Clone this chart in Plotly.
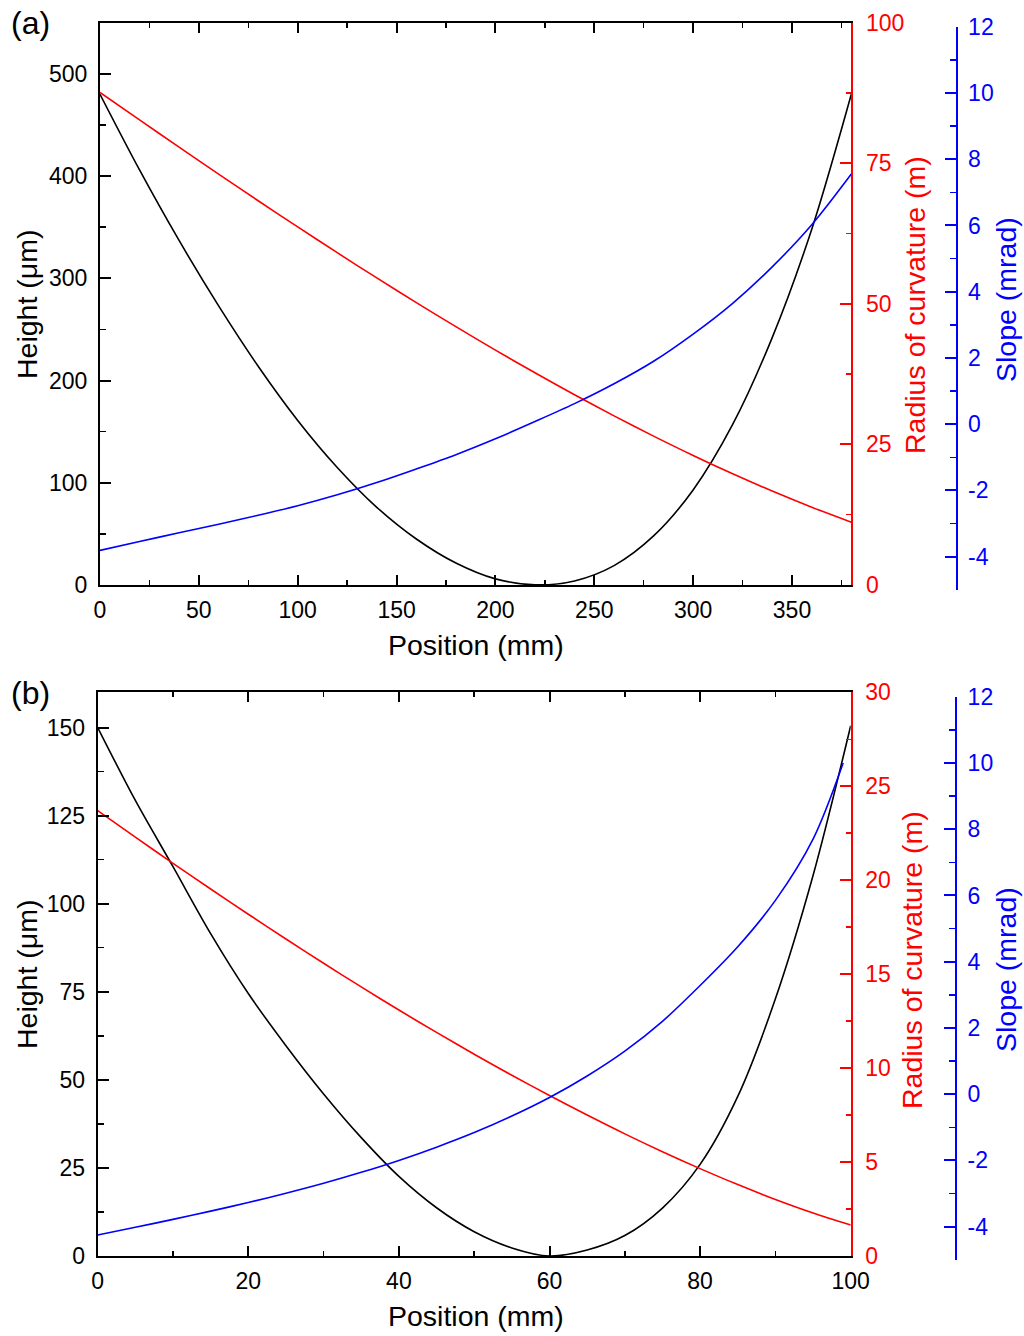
import plotly.graph_objects as go

# ---------------- data: panel (a) ----------------
pos_a = [0, 20, 40, 60, 80, 100, 120, 140, 160, 180, 200, 220, 240, 260, 280, 300, 320, 340, 360, 380]
height_a = [480, 406, 337, 273, 214, 161, 115, 76, 45, 21.5, 6, 0.2, 4, 19, 48, 93, 157, 242, 348, 480]
radius_a = [87.6, 82.71, 77.87, 73.08, 68.34, 63.68, 59.10, 54.61, 50.22, 45.94, 41.78, 37.74, 33.84,
            30.08, 26.48, 23.04, 19.78, 16.71, 13.84, 11.18]
slope_a = [-3.81, -3.54, -3.28, -3.02, -2.75, -2.46, -2.13, -1.76, -1.35, -0.92, -0.44, 0.08, 0.62,
           1.22, 1.90, 2.72, 3.65, 4.75, 6.02, 7.55]

# ---------------- data: panel (b) ----------------
pos_b = [0, 5, 10, 15, 20, 25, 30, 35, 40, 45, 50, 55, 60, 65, 70, 75, 80, 85, 90, 95, 100]
height_b = [150, 129.3, 110.5, 91.5, 74.5, 59.7, 46.0, 33.6, 22.6, 13.7, 6.9, 2.3, 0.0, 1.7, 5.8, 13.6,
            26.0, 45.3, 73, 108, 150.5]
radius_b = [23.7, 22.29, 20.90, 19.53, 18.19, 16.87, 15.58, 14.32, 13.09, 11.90, 10.74, 9.62, 8.54,
            7.50, 6.50, 5.55, 4.65, 3.80, 3.01, 2.29, 1.65]
slope_pos_b = [0, 5, 10, 15, 20, 25, 30, 35, 40, 45, 50, 55, 60, 65, 70, 75, 80, 85, 90, 95, 99]
slope_b = [-4.25, -4.02, -3.78, -3.53, -3.27, -2.99, -2.69, -2.36, -2.00, -1.60, -1.16, -0.66, -0.10,
           0.55, 1.30, 2.20, 3.28, 4.45, 5.85, 7.70, 10.0]

# ---------------- tick labels ----------------
slope_tickvals = [-4, -2, 0, 2, 4, 6, 8, 10, 12]
slope_ticktext = ["-4", "-2", "0", "2", "4", "6", "8", "10", "12"]

W, H = 1024, 1336
FONT = "Liberation Sans, Arial, sans-serif"
TICKSIZE = 23
TITLESIZE = 28.5


def px(x):
    return x / W


def py(y):
    return 1 - y / H


def axis_style(color, major_len=11, minor_len=5, minor_dtick=None, standoff=0):
    d = dict(
        showline=True, linecolor=color, linewidth=2,
        ticks="inside", ticklen=major_len, tickwidth=2, tickcolor=color,
        tickfont=dict(family=FONT, size=TICKSIZE, color=color),
        showgrid=False, zeroline=False, automargin=False,
        ticklabelstandoff=standoff,
    )
    if minor_dtick is not None:
        d["minor"] = dict(dtick=minor_dtick, ticks="inside", ticklen=minor_len,
                          tickwidth=1.5, tickcolor=color, showgrid=False)
    return d


fig = go.Figure()

LW = 1.6
SM = 0.9
# panel (a)
fig.add_trace(go.Scatter(x=pos_a, y=height_a, xaxis="x", yaxis="y", mode="lines",
                         line=dict(color="black", width=LW, shape="spline", smoothing=SM)))
fig.add_trace(go.Scatter(x=pos_a, y=radius_a, xaxis="x", yaxis="y2", mode="lines",
                         line=dict(color="#FF0000", width=LW, shape="spline", smoothing=SM)))
fig.add_trace(go.Scatter(x=pos_a, y=slope_a, xaxis="x", yaxis="y3", mode="lines",
                         line=dict(color="#0000FF", width=LW, shape="spline", smoothing=SM)))
# panel (b)
fig.add_trace(go.Scatter(x=pos_b, y=height_b, xaxis="x2", yaxis="y4", mode="lines",
                         line=dict(color="black", width=LW, shape="spline", smoothing=SM)))
fig.add_trace(go.Scatter(x=pos_b, y=radius_b, xaxis="x2", yaxis="y5", mode="lines",
                         line=dict(color="#FF0000", width=LW, shape="spline", smoothing=SM)))
fig.add_trace(go.Scatter(x=slope_pos_b, y=slope_b, xaxis="x2", yaxis="y6", mode="lines",
                         line=dict(color="#0000FF", width=LW, shape="spline", smoothing=SM)))

fig.update_traces(showlegend=False, hoverinfo="skip")

# axes panel (a)
xa = axis_style("black", 10, 5, 25, standoff=3)
xa.update(domain=[px(100), px(851.3)], range=[0, 380], anchor="y", dtick=50, tick0=0, mirror="ticks")
ya = axis_style("black", 11, 6, 50, standoff=6)
ya.update(domain=[py(585), py(22.7)], range=[0, 550], anchor="x", dtick=100, tick0=0)
y2a = axis_style("#FF0000", 11, 5, 12.5, standoff=8)
y2a.update(overlaying="y", side="right", anchor="x", range=[0, 100], dtick=25, tick0=0)
y3a = axis_style("#0000FF", 11, 6, 1, standoff=6)
y3a.update(domain=[py(589.8), py(26.7)], anchor="free", position=px(956.5), side="right",
           range=[-5, 12], tickmode="array", tickvals=slope_tickvals, ticktext=slope_ticktext)

# axes panel (b)
xb = axis_style("black", 10, 5, 10, standoff=3)
xb.update(domain=[px(97.7), px(850.7)], range=[0, 100], anchor="y4", dtick=20, tick0=0, mirror="ticks")
yb = axis_style("black", 11, 6, 12.5, standoff=6)
yb.update(domain=[py(1256), py(692.3)], range=[0, 160], anchor="x2", dtick=25, tick0=0)
y2b = axis_style("#FF0000", 11, 5, 2.5, standoff=8)
y2b.update(overlaying="y4", side="right", anchor="x2", range=[0, 30], dtick=5, tick0=0)
y3b = axis_style("#0000FF", 11, 6, 1, standoff=6)
y3b.update(domain=[py(1259.8), py(696.7)], anchor="free", position=px(956), side="right",
           range=[-5, 12], tickmode="array", tickvals=slope_tickvals, ticktext=slope_ticktext)

fig.update_layout(
    template="none",
    width=W, height=H, autosize=False,
    margin=dict(l=0, r=0, t=0, b=0, pad=0, autoexpand=False),
    paper_bgcolor="white", plot_bgcolor="rgba(0,0,0,0)",
    font=dict(family=FONT, size=TICKSIZE, color="black"),
    xaxis=xa, yaxis=ya, yaxis2=y2a, yaxis3=y3a,
    xaxis2=xb, yaxis4=yb, yaxis5=y2b, yaxis6=y3b,
)


def label(text, x, y, color="black", size=TITLESIZE, angle=0, xanchor="center"):
    fig.add_annotation(text=text, x=px(x), y=py(y), xref="paper", yref="paper",
                       showarrow=False, textangle=angle, xanchor=xanchor, yanchor="middle",
                       font=dict(family=FONT, size=size, color=color))


# panel labels
label("(a)", 9, 23, size=32, xanchor="left")
label("(b)", 9, 693, size=32, xanchor="left")

# titles panel (a)
label("Position (mm)", 476, 645)
label("Height (μm)", 27, 305, angle=-90)
label("Radius of curvature (m)", 915, 305, color="#FF0000", angle=-90)
label("Slope (mrad)", 1006, 300, color="#0000FF", angle=-90)

# titles panel (b)
label("Position (mm)", 476, 1316)
label("Height (μm)", 27, 975, angle=-90)
label("Radius of curvature (m)", 912, 960, color="#FF0000", angle=-90)
label("Slope (mrad)", 1006, 970, color="#0000FF", angle=-90)

fig.write_html(
    "out.html",
    config={"displayModeBar": False, "staticPlot": True},
    post_script="document.documentElement.style.margin='0';document.body.style.margin='0';"
                "document.body.style.padding='0';document.body.style.overflow='hidden';",
)
